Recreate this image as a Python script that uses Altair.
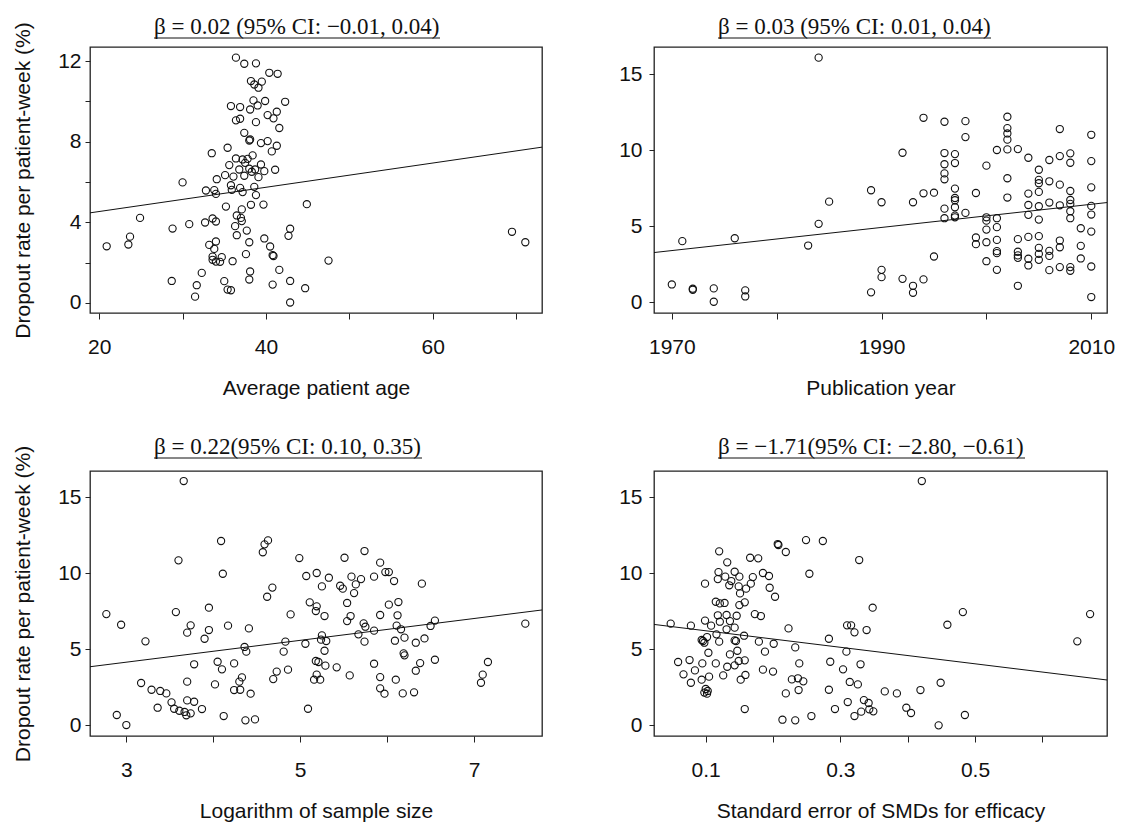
import altair as alt
import pandas as pd

# ---------------- data ----------------
Y_TITLE = "Dropout rate per patient-week (%)"

# Panel 1: average patient age
age = [36.4, 37.4, 38.8, 40.4, 41.4, 38.2, 39.5, 38.6, 39.1, 38.5,
       39.9, 42.3, 35.8, 36.9, 38.1, 39.0, 41.3, 40.2, 40.9, 36.4,
       36.9, 38.8, 41.6, 37.4, 38.1, 38.0, 39.4, 40.2, 41.3, 40.7,
       33.5, 35.4, 38.4, 36.4, 37.2, 37.8, 37.5, 35.6, 39.4, 36.8,
       38.0, 38.7, 38.3, 39.8, 41.1, 35.1, 36.1, 37.4, 39.1, 34.1,
       30.0, 35.8, 32.8, 33.8, 34.0, 35.9, 36.9, 37.2, 38.6, 38.8,
       35.2, 38.2, 39.7, 44.9, 37.1, 36.5, 37.0, 33.6, 34.0, 37.1,
       32.7, 30.8, 24.9, 28.8, 36.3, 37.7, 42.9, 42.7, 36.5, 23.7,
       23.5, 20.9, 34.0, 33.2, 33.8, 38.0, 39.8, 40.5, 40.8, 40.9,
       37.6, 33.6, 33.6, 34.7, 34.0, 34.5, 36.0, 47.5, 69.5, 71.1,
       32.3, 38.1, 41.6, 38.0, 28.7, 31.7, 35.0, 35.4, 35.8, 40.8,
       42.9, 44.7, 31.5, 42.9]
dropout_age = [12.17, 11.87, 11.89, 11.42, 11.37, 11.01, 10.98, 10.84, 10.68, 10.05,
               10.02, 9.98, 9.77, 9.72, 9.60, 9.80, 9.49, 9.32, 9.16, 9.06,
               9.14, 8.97, 8.68, 8.44, 8.11, 8.06, 7.93, 8.03, 7.80, 7.52,
               7.43, 7.70, 7.32, 7.17, 7.12, 7.15, 6.95, 6.84, 6.87, 6.62,
               6.66, 6.62, 6.51, 6.54, 6.61, 6.34, 6.27, 6.31, 6.24, 6.14,
               5.98, 5.84, 5.58, 5.60, 5.41, 5.61, 5.71, 5.50, 5.76, 5.35,
               4.78, 4.87, 4.88, 4.90, 4.64, 4.34, 4.22, 4.19, 4.04, 4.06,
               3.99, 3.91, 4.22, 3.69, 3.81, 3.59, 3.68, 3.33, 3.36, 3.29,
               2.90, 2.81, 3.05, 2.88, 2.68, 3.01, 3.20, 2.80, 2.37, 2.33,
               2.42, 2.30, 2.14, 2.27, 2.05, 2.04, 2.07, 2.10, 3.53, 3.01,
               1.49, 1.56, 1.64, 1.16, 1.09, 0.88, 1.08, 0.66, 0.63, 0.91,
               1.09, 0.73, 0.31, 0.02]
age_fit_x = [18.9, 73.1]
age_fit_y = [4.47, 7.73]

# Panel 2: publication year
year = [1984, 1970, 1972, 1972, 1974, 1974, 1977, 1977, 1971, 1976,
        1983, 1984, 1985, 1989, 1990, 1989, 1990, 1990, 1992, 1992,
        1993, 1993, 1993, 1994, 1994, 1994, 1995, 1995, 1996, 1996,
        1996, 1996, 1996, 1996, 1996, 1997, 1997, 1997, 1997, 1997,
        1997, 1997, 1997, 1998, 1998, 1998, 1999, 1999, 1999, 2000,
        2000, 2000, 2000, 2000, 2000, 2001, 2001, 2001, 2001, 2001,
        2001, 2001, 2002, 2002, 2002, 2002, 2002, 2002, 2002, 2003,
        2003, 2003, 2003, 2003, 2003, 2004, 2004, 2004, 2004, 2004,
        2004, 2004, 2005, 2005, 2005, 2005, 2005, 2005, 2005, 2005,
        2005, 2005, 2006, 2006, 2006, 2006, 2006, 2006, 2007, 2007,
        2007, 2007, 2007, 2007, 2007, 2008, 2008, 2008, 2008, 2008,
        2008, 2008, 2008, 2008, 2009, 2009, 2009, 2010, 2010, 2010,
        2010, 2010, 2010, 2010, 2010]
dropout_year = [16.09, 1.16, 0.88, 0.81, 0.90, 0.02, 0.77, 0.37, 4.01, 4.20,
                3.72, 5.15, 6.61, 7.36, 6.57, 0.64, 2.12, 1.64, 9.83, 1.53,
                6.57, 1.07, 0.61, 12.13, 7.16, 1.49, 7.20, 3.00, 11.87, 9.81,
                9.07, 8.47, 8.08, 6.15, 5.52, 9.74, 9.15, 7.47, 6.85, 6.70,
                6.24, 5.69, 5.58, 11.91, 10.86, 5.87, 7.18, 4.25, 3.81, 8.98,
                5.58, 5.36, 4.77, 3.94, 2.69, 10.01, 5.52, 4.93, 4.09, 3.35,
                3.22, 2.12, 12.20, 11.45, 11.10, 10.69, 10.05, 8.15, 6.88, 10.07,
                4.14, 3.31, 3.07, 2.91, 1.07, 9.50, 7.14, 6.39, 5.74, 4.29,
                2.85, 2.41, 8.71, 8.04, 7.82, 7.25, 6.31, 5.43, 4.34, 3.57,
                3.17, 2.78, 9.35, 7.95, 6.55, 3.37, 3.04, 2.10, 11.39, 9.61,
                7.73, 6.37, 4.05, 3.61, 2.30, 9.79, 9.17, 7.31, 6.72, 6.46,
                5.98, 5.52, 2.30, 2.06, 4.86, 3.70, 2.87, 11.01, 9.28, 7.55,
                6.33, 5.76, 4.64, 2.34, 0.33]
year_fit_x = [1968.3, 2011.5]
year_fit_y = [3.26, 6.55]

# Panel 3: logarithm of sample size
log_n = [3.66, 4.09, 4.63, 4.59, 4.57, 4.99, 5.51, 5.74, 5.92, 3.60,
         4.11, 5.07, 5.19, 5.33, 5.59, 5.70, 5.85, 5.98, 6.02, 6.08,
         4.68, 4.62, 5.25, 5.46, 5.49, 5.64, 5.62, 6.40, 3.95, 5.11,
         5.19, 5.18, 5.28, 5.54, 6.02, 6.13, 2.77, 3.57, 4.89, 5.92,
         6.12, 2.94, 3.74, 3.70, 3.95, 4.17, 4.41, 3.90, 3.22, 5.54,
         5.58, 5.73, 5.75, 5.85, 5.67, 5.74, 6.11, 6.16, 6.20, 6.09,
         6.33, 6.43, 6.50, 6.55, 7.59, 5.25, 5.24, 5.30, 4.83, 5.06,
         4.36, 4.38, 4.81, 5.28, 6.19, 6.20, 3.78, 4.05, 4.10, 4.24,
         5.18, 5.21, 5.29, 5.42, 5.85, 6.38, 6.55, 7.16, 7.10, 4.73,
         4.86, 5.19, 5.57, 5.92, 6.33, 4.33, 4.30, 4.69, 5.16, 5.23,
         6.10, 3.17, 3.70, 4.02, 3.29, 3.39, 3.46, 4.24, 4.31, 4.43,
         5.92, 5.97, 6.18, 6.31, 7.08, 3.52, 3.70, 3.78, 3.36, 3.55,
         3.61, 3.67, 3.69, 3.74, 3.87, 2.89, 3.00, 4.12, 4.37, 4.48,
         5.09]
dropout_n = [16.05, 12.11, 12.15, 11.89, 11.37, 10.99, 11.01, 11.45, 10.69, 10.84,
             9.96, 9.81, 10.01, 9.70, 9.77, 9.61, 9.77, 10.07, 10.07, 9.48,
             9.05, 8.45, 9.13, 9.17, 8.98, 9.26, 8.69, 9.31, 7.73, 8.08,
             7.82, 7.51, 7.18, 8.04, 7.93, 8.10, 7.31, 7.44, 7.29, 7.25,
             7.23, 6.61, 6.57, 6.09, 6.26, 6.55, 6.37, 5.69, 5.52, 6.85,
             7.18, 6.70, 6.48, 6.22, 5.98, 5.50, 6.55, 6.31, 5.76, 5.56,
             5.43, 5.71, 6.53, 6.88, 6.68, 5.91, 5.63, 5.54, 5.50, 5.36,
             5.15, 4.84, 4.84, 4.90, 4.73, 4.60, 4.01, 4.18, 3.68, 4.07,
             4.23, 4.16, 3.92, 3.81, 4.05, 4.09, 4.31, 4.16, 3.33, 3.53,
             3.66, 3.33, 3.28, 3.17, 3.59, 3.15, 2.87, 3.04, 3.00, 3.00,
             3.00, 2.78, 2.87, 2.69, 2.34, 2.26, 2.10, 2.32, 2.34, 2.08,
             2.43, 2.08, 2.10, 2.17, 2.80, 1.51, 1.64, 1.55, 1.16, 1.09,
             0.96, 0.88, 0.66, 0.79, 1.07, 0.68, 0.02, 0.61, 0.33, 0.39,
             1.09]
n_fit_x = [2.582, 7.782]
n_fit_y = [3.85, 7.58]

# Panel 4: standard error of SMDs for efficacy
se_smd = [0.421, 0.249, 0.274, 0.207, 0.208, 0.219, 0.120, 0.166, 0.178, 0.132,
          0.328, 0.254, 0.185, 0.194, 0.119, 0.143, 0.118, 0.129, 0.150, 0.170,
          0.138, 0.099, 0.135, 0.149, 0.160, 0.167, 0.195, 0.203, 0.151, 0.115,
          0.121, 0.128, 0.150, 0.158, 0.146, 0.173, 0.182, 0.118, 0.131, 0.121,
          0.136, 0.099, 0.108, 0.048, 0.078, 0.143, 0.131, 0.116, 0.120, 0.157,
          0.143, 0.145, 0.102, 0.094, 0.098, 0.096, 0.179, 0.201, 0.223, 0.283,
          0.310, 0.316, 0.321, 0.339, 0.348, 0.482, 0.459, 0.671, 0.652, 0.104,
          0.147, 0.188, 0.233, 0.309, 0.136, 0.059, 0.076, 0.095, 0.115, 0.132,
          0.143, 0.149, 0.158, 0.239, 0.285, 0.330, 0.067, 0.084, 0.126, 0.105,
          0.094, 0.152, 0.159, 0.078, 0.185, 0.200, 0.304, 0.228, 0.237, 0.245,
          0.314, 0.326, 0.449, 0.100, 0.103, 0.098, 0.102, 0.219, 0.238, 0.283,
          0.366, 0.384, 0.419, 0.158, 0.311, 0.335, 0.342, 0.343, 0.349, 0.292,
          0.331, 0.321, 0.398, 0.405, 0.485, 0.214, 0.233, 0.257, 0.446]
dropout_se = [16.05, 12.17, 12.11, 11.91, 11.85, 11.39, 11.43, 11.01, 10.97, 10.71,
              10.86, 9.96, 10.01, 9.81, 10.07, 10.09, 9.61, 9.77, 9.77, 9.74,
              9.48, 9.31, 9.20, 9.13, 8.98, 9.31, 9.04, 8.45, 8.67, 8.12,
              8.01, 8.04, 7.90, 8.08, 7.20, 7.31, 7.18, 7.23, 7.25, 6.81,
              6.85, 6.88, 6.55, 6.68, 6.55, 6.42, 6.31, 5.98, 5.50, 5.89,
              5.58, 5.54, 5.80, 5.61, 5.43, 5.54, 5.50, 5.36, 6.37, 5.69,
              6.57, 6.57, 6.11, 6.26, 7.73, 7.44, 6.61, 7.31, 5.52, 4.77,
              4.90, 4.84, 5.12, 4.84, 4.66, 4.16, 4.29, 4.07, 4.07, 3.85,
              3.94, 4.23, 4.27, 4.07, 4.18, 4.01, 3.35, 3.61, 3.28, 3.20,
              3.00, 3.00, 3.31, 2.80, 3.66, 3.53, 3.68, 3.02, 3.09, 2.89,
              2.85, 2.69, 2.80, 2.39, 2.26, 2.15, 2.08, 2.10, 2.32, 2.34,
              2.23, 2.10, 2.32, 1.07, 1.53, 1.66, 1.47, 1.05, 0.92, 1.07,
              0.90, 0.61, 1.16, 0.81, 0.68, 0.37, 0.33, 0.61, 0.00]
se_fit_x = [0.0232, 0.6961]
se_fit_y = [6.63, 2.98]

# axis ticks
age_ticks = [20, 30, 40, 50, 60, 70]
year_ticks = [1970, 1980, 1990, 2000, 2010]
n_ticks = [3, 4, 5, 6, 7]
se_ticks = [0.1, 0.2, 0.3, 0.4, 0.5, 0.6]
y_ticks_age = [0, 2, 4, 6, 8, 10, 12]
y_ticks_other = [0, 5, 10, 15]

titles = [
    "β = 0.02 (95% CI: −0.01, 0.04)",
    "β = 0.03 (95% CI: 0.01, 0.04)",
    "β = 0.22(95% CI: 0.10, 0.35)",
    "β = −1.71(95% CI: −2.80, −0.61)",
]

# ---------------- chart ----------------
INK = "#111111"


def panel(xs, ys, fx, fy, x_title, x_dom, x_vals, x_expr, x_fmt,
          y_dom, y_vals, y_expr, title, left, title_y, ul_w, w, h):
    df = pd.DataFrame({"x": xs, "y": ys})
    fit = pd.DataFrame({"x": fx, "y": fy})
    x_axis = alt.Axis(title=x_title, values=x_vals, labelExpr=x_expr,
                      format=x_fmt, tickSize=6, labelPadding=17,
                      titlePadding=20, labelFlush=False, labelOverlap=False)
    y_axis = alt.Axis(title=Y_TITLE if left else "", values=y_vals,
                      labelExpr=y_expr, tickSize=5,
                      labelPadding=4 if left else 7,
                      minExtent=35, maxExtent=35, titlePadding=21.5,
                      labelOverlap=False)
    xs_ = alt.Scale(domain=x_dom, nice=False, zero=False)
    ys_ = alt.Scale(domain=y_dom, nice=False, zero=False)
    pts = alt.Chart(df).mark_point(
        shape="circle", filled=False, color=INK, strokeWidth=1.1,
        size=52, opacity=1
    ).encode(
        x=alt.X("x:Q", scale=xs_, axis=x_axis),
        y=alt.Y("y:Q", scale=ys_, axis=y_axis),
    )
    line = alt.Chart(fit).mark_line(color=INK, strokeWidth=1).encode(
        x="x:Q", y="y:Q"
    )
    ttl = alt.Chart(pd.DataFrame({"t": [title]})).mark_text(
        align="left", baseline="alphabetic", font="Liberation Serif",
        fontSize=23, color=INK
    ).encode(x=alt.value(64), y=alt.value(title_y), text="t:N")
    ul = alt.Chart(pd.DataFrame({"u": [0]})).mark_rule(
        color=INK, strokeWidth=1
    ).encode(x=alt.value(64), x2=alt.value(64 + ul_w),
             y=alt.value(title_y + 4))
    return alt.layer(pts, line, ttl, ul).properties(width=w, height=h)


p1 = panel(age, dropout_age, age_fit_x, age_fit_y, "Average patient age",
           [18.9, 73.1], age_ticks, "datum.value % 20 == 0 ? datum.label : ''", "d",
           [-0.5, 12.7], y_ticks_age, "datum.value % 4 == 0 ? datum.label : ''",
           titles[0], True, -13, 286, 452, 266)
p2 = panel(year, dropout_year, year_fit_x, year_fit_y, "Publication year",
           [1968.3, 2011.5], year_ticks,
           "(datum.value - 1970) % 20 == 0 ? datum.label : ''", "d",
           [-0.72, 16.79], y_ticks_other, "datum.label",
           titles[1], False, -13, 273, 453, 266)
p3 = panel(log_n, dropout_n, n_fit_x, n_fit_y, "Logarithm of sample size",
           [2.582, 7.782], n_ticks, "datum.value % 2 == 1 ? datum.label : ''", "d",
           [-0.7, 16.71], y_ticks_other, "datum.label",
           titles[2], True, -17, 268, 452, 265)
p4 = panel(se_smd, dropout_se, se_fit_x, se_fit_y,
           "Standard error of SMDs for efficacy",
           [0.0232, 0.6961], se_ticks,
           "round(datum.value * 10) % 2 == 1 ? datum.label : ''", ".1f",
           [-0.7, 16.71], y_ticks_other, "datum.label",
           titles[3], False, -17, 307, 453, 265)

chart = alt.vconcat(
    alt.hconcat(p1, p2, spacing=72),
    alt.hconcat(p3, p4, spacing=72),
    spacing=36,
).properties(
    padding={"left": 11, "top": 15, "right": 5, "bottom": 5},
    background="white",
).configure_view(
    stroke="#222222", strokeWidth=1.3
).configure_axis(
    domain=False, grid=False,
    labelFont="Liberation Sans", labelFontSize=21, labelColor=INK,
    titleFont="Liberation Sans", titleFontSize=21, titleFontWeight="normal",
    titleColor=INK, tickColor="#222222", tickWidth=1,
)

chart.save("out.html", embed_options={"renderer": "svg", "actions": False})
